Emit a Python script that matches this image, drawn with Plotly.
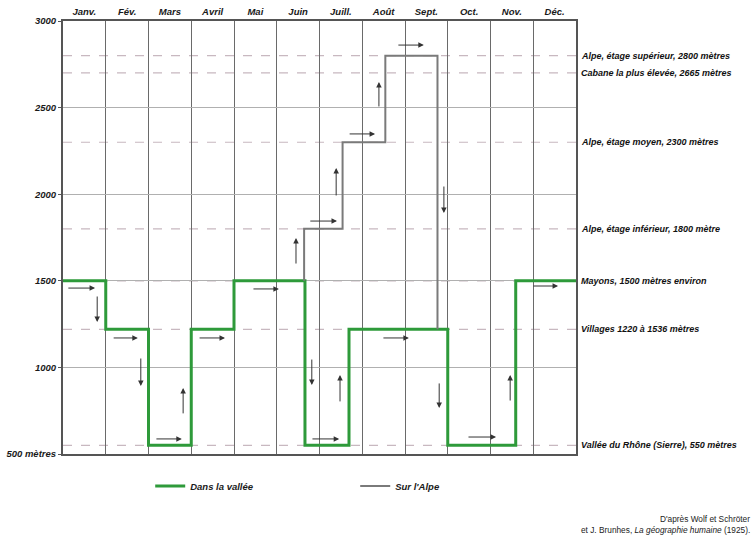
import plotly.graph_objects as go

# ---------------- data ----------------
months = ["Janv.", "Fév.", "Mars", "Avril", "Mai", "Juin", "Juill.", "Août",
          "Sept.", "Oct.", "Nov.", "Déc."]

# "Dans la vallée" step line (x in months from 1 Jan, y in metres)
valley_x = [0, 1, 1, 2, 2, 3, 3, 4, 4, 5.66, 5.66, 6.69, 6.69, 9.0, 9.0, 10.59, 10.59, 12]
valley_y = [1500, 1500, 1220, 1220, 550, 550, 1220, 1220, 1500, 1500, 550, 550, 1220, 1220, 550, 550, 1500, 1500]

# "Sur l'Alpe" step line
alpe_x = [5.64, 5.64, 6.54, 6.54, 7.54, 7.54, 8.76, 8.76]
alpe_y = [1500, 1800, 1800, 2300, 2300, 2800, 2800, 1220]

# reference altitudes (dashed lines) and their labels
level_vals = [2800, 2700, 2300, 1800, 1500, 1220, 550]
level_labels = [
    "Alpe, étage supérieur, 2800 mètres",
    "Cabane la plus élevée, 2665 mètres",
    "Alpe, étage moyen, 2300 mètres",
    "Alpe, étage inférieur, 1800 mètre",
    "Mayons, 1500 mètres environ",
    "Villages 1220 à 1536 mètres",
    "Vallée du Rhône (Sierre), 550 mètres",
]

y_ticks = [500, 1000, 1500, 2000, 2500, 3000]
y_ticktext = ["500 mètres", "1000", "1500", "2000", "2500", "3000"]

# movement arrows: (tail_x, tail_y, head_x, head_y)
arrow_tail_x = [0.09, 0.80, 1.15, 1.82, 2.15, 2.81, 3.16, 4.42, 5.82, 5.80, 6.48, 7.46,
                8.80, 9.45, 10.46, 10.97, 5.45, 5.75, 6.39, 6.67, 7.39, 7.81, 8.91]
arrow_tail_y = [1458, 1418, 1170, 1060, 587, 726, 1170, 1453, 1054, 587, 795, 1170,
                916, 598, 800, 1470, 1591, 1845, 1984, 2348, 2498, 2861, 2053]
arrow_head_x = [0.75, 0.80, 1.75, 1.82, 2.78, 2.81, 3.79, 5.05, 5.82, 6.46, 6.48, 8.09,
                8.80, 10.13, 10.46, 11.58, 5.45, 6.41, 6.39, 7.30, 7.39, 8.44, 8.91]
arrow_head_y = [1458, 1262, 1170, 893, 587, 881, 1170, 1453, 898, 587, 956, 1170,
                766, 598, 956, 1470, 1747, 1845, 2151, 2348, 2648, 2861, 1891]

source_lines = ["D'après Wolf et Schröter",
                "et J. Brunhes, <i>La géographie humaine</i> (1925)."]

# ---------------- figure ----------------
FONT = "Liberation Sans, Arial, sans-serif"
BI = dict(family=FONT, size=9.5, color="#1a1a1a", weight="bold", style="italic")

fig = go.Figure()

fig.add_trace(go.Scatter(x=valley_x, y=valley_y, mode="lines", name="Dans la vallée",
                         line=dict(color="#2e9a3a", width=3), hoverinfo="skip"))
fig.add_trace(go.Scatter(x=alpe_x, y=alpe_y, mode="lines", name="Sur l'Alpe",
                         line=dict(color="#7a7a7a", width=2), hoverinfo="skip"))

for v in level_vals:
    fig.add_hline(y=v, line=dict(color="#c8b8c0", width=1.2, dash="dash"), layer="below")

annotations = []
for v, lab in zip(level_vals, level_labels):
    annotations.append(dict(x=1.006, xref="paper", y=v, yref="y", text=lab,
                            showarrow=False, xanchor="left", yanchor="middle",
                            font=dict(BI, size=9, color="#111")))

for tx, ty, hx, hy in zip(arrow_tail_x, arrow_tail_y, arrow_head_x, arrow_head_y):
    annotations.append(dict(x=hx, y=hy, xref="x", yref="y", ax=tx, ay=ty,
                            axref="x", ayref="y", text="", showarrow=True,
                            arrowhead=2, arrowsize=1.1, arrowwidth=1,
                            arrowcolor="#333"))

for i, line in enumerate(source_lines):
    annotations.append(dict(x=1.343, xref="paper", y=-0.150 - 0.026 * i, yref="paper",
                            text=line, showarrow=False, xanchor="right",
                            yanchor="middle",
                            font=dict(family=FONT, size=8.3, color="#222")))

fig.update_layout(
    width=755, height=538,
    margin=dict(l=63, r=179, t=21, b=84, autoexpand=False),
    paper_bgcolor="white", plot_bgcolor="white",
    showlegend=True,
    legend=dict(orientation="h", x=0.17, y=-0.074, xanchor="left", yanchor="middle",
                entrywidth=160, entrywidthmode="pixels",
                font=dict(BI, size=9.5), bgcolor="rgba(0,0,0,0)"),
    annotations=annotations,
    xaxis=dict(range=[0, 12], side="top", automargin=False,
               tickmode="array", tickvals=[i + 0.5 for i in range(12)], ticktext=months,
               ticks="", showgrid=False, zeroline=False,
               tickfont=BI,
               minor=dict(tickmode="linear", tick0=0, dtick=1, showgrid=True,
                          gridcolor="#6a6a6a", gridwidth=1.2, ticks=""),
               showline=True, linecolor="#555", linewidth=2, mirror=True),
    yaxis=dict(range=[500, 3000], tickmode="array", tickvals=y_ticks, ticktext=y_ticktext,
               automargin=False,
               ticks="outside", ticklen=3, tickcolor="#555",
               showgrid=True, gridcolor="#b0b0b0", gridwidth=1, zeroline=False,
               tickfont=BI,
               showline=True, linecolor="#555", linewidth=2, mirror=True),
)

fig.write_html("out.html", config={"displayModeBar": False},
               post_script="document.body.style.margin='0';document.body.style.overflow='hidden';")
